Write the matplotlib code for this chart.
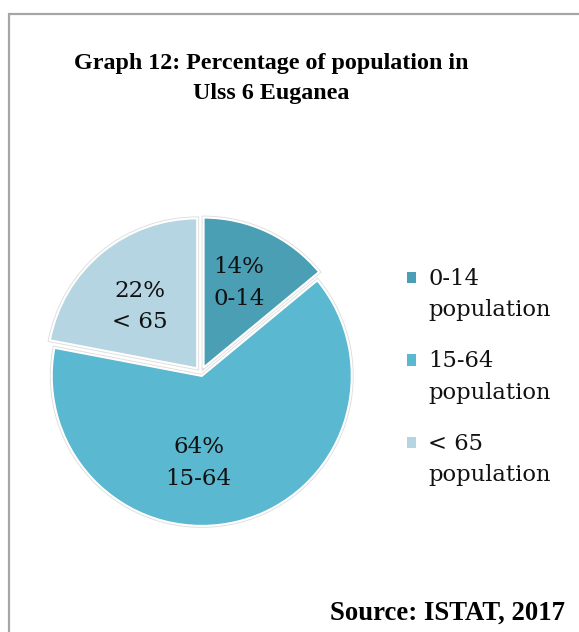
import matplotlib.pyplot as plt
import matplotlib.patheffects as pe
from matplotlib.legend_handler import HandlerPatch
from matplotlib.patches import Rectangle

# population shares by age group
groups = ["0-14", "15-64", "< 65"]
shares = [14, 64, 22]
legend_labels = ["0-14\npopulation", "15-64\npopulation", "< 65\npopulation"]
colors = ["#4A9FB5", "#5AB8D0", "#B5D5E2"]
explode = [0.04, 0.02, 0.04]

W, H = 579, 632
fig = plt.figure(figsize=(W / 100, H / 100), dpi=100)

# frame around the chart area (runs off the right and bottom edges)
fig.patches.append(Rectangle((9 / W, -0.05), 1.1, 1 - 14 / H + 0.05,
                             transform=fig.transFigure, fill=False,
                             edgecolor="#A6A6A6", linewidth=1.6))

title_font = ["Liberation Serif", "DejaVu Serif"]
body_font = ["DejaVu Serif"]

fig.text(271 / W, 1 - 63 / H, "Graph 12: Percentage of population in",
         ha="center", va="center", fontsize=17.3, fontweight="bold", family=title_font)
fig.text(271 / W, 1 - 93 / H, "Ulss 6 Euganea",
         ha="center", va="center", fontsize=17.3, fontweight="bold", family=title_font)

# pie axes: centre ~(201, 373) px, radius ~150 px
cx, cy, r = 201, 373, 150
lim = 1.1
side = 2 * lim * r
ax = fig.add_axes([(cx - side / 2) / W, 1 - (cy + side / 2) / H, side / W, side / H])

labels_iter = iter(groups)
wedges, _, autotexts = ax.pie(
    shares,
    colors=colors,
    explode=explode,
    startangle=90,
    counterclock=False,
    autopct=lambda p: f"{p:.0f}%\n{next(labels_iter)}",
    pctdistance=0.6,
    wedgeprops=dict(edgecolor="white", linewidth=1.5),
    textprops=dict(fontsize=16.5, family=body_font, color="#111111"),
)
for w in wedges:
    w.set_path_effects([pe.Stroke(linewidth=2.8, foreground="#DEDEDE"), pe.Normal()])
ax.set_xlim(-lim, lim)
ax.set_ylim(-lim, lim)
ax.set_aspect("equal")

# labels sit a little off the wedge mid-angles
nudges = [(-0.02, 0.02), (-0.17, 0.0), (0.0, -0.05)]
for t, (dx, dy) in zip(autotexts, nudges):
    x, y = t.get_position()
    t.set_position((x + dx, y + dy))
    t.set_linespacing(1.55)

legend_size = 16.3
legend_spacing = 1.54


def top_square(legend, orig_handle, xdescent, ydescent, width, height, fontsize):
    # square lines up with the first line of a two-line label
    return Rectangle((-xdescent, -ydescent + 0.77 * fontsize), width, height)


handles = [Rectangle((0, 0), 1, 1, facecolor=c, edgecolor="none") for c in colors]
leg = fig.legend(handles, legend_labels, loc="upper left",
                 bbox_to_anchor=(407 / W, 1 - 268 / H),
                 frameon=False, prop=dict(family=body_font, size=legend_size),
                 handlelength=0.4, handleheight=0.4, handletextpad=0.53,
                 labelspacing=1.29, borderpad=0, borderaxespad=0,
                 handler_map={h: HandlerPatch(patch_func=top_square) for h in handles})
for t in leg.get_texts():
    t.set_linespacing(legend_spacing)
    t.set_color("#111111")

fig.text(565 / W, 1 - 613 / H, "Source: ISTAT, 2017", ha="right", va="center",
         fontsize=19.3, fontweight="bold", family=title_font)

fig.savefig("out.png", dpi=100)
